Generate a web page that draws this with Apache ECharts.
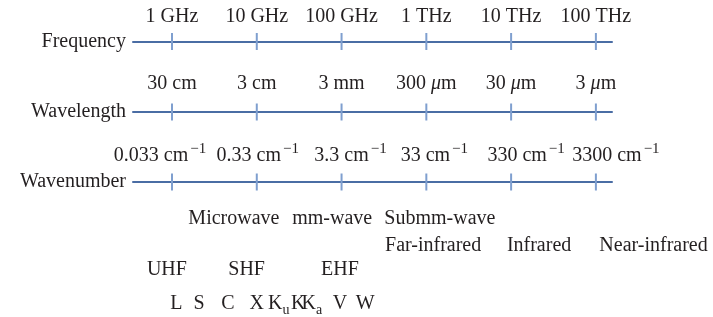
<!DOCTYPE html>
<html>
<head>
<meta charset="utf-8">
<script src="https://cdn.jsdelivr.net/npm/echarts@6/dist/echarts.min.js"></script>
<style>
  html, body { margin: 0; padding: 0; background: #fff; }
  #main { width: 713px; height: 317px; }
</style>
</head>
<body>
<div id="main"></div>
<script>
'use strict';

// decades above 1 GHz (log10 of f / 1 GHz)
var decades = [0, 1, 2, 3, 4, 5];
var axisMin = -0.46;
var axisMax = 5.19;

var rowNames = ['Frequency', 'Wavelength', 'Wavenumber'];
var freqLabels = ['1 GHz', '10 GHz', '100 GHz', '1 THz', '10 THz', '100 THz'];
var waveValues = ['30', '3', '3', '300', '30', '3'];
var waveUnits = ['cm', 'cm', 'mm', 'μm', 'μm', 'μm'];
var numberValues = ['0.033', '0.33', '3.3', '33', '330', '3300'];

// annotation rows, positioned on the same decade scale
var spectrumNames = ['Microwave', 'mm-wave', 'Submm-wave'];
var spectrumPos = [0.73, 1.89, 3.16];
var infraredNames = ['Far-infrared', 'Infrared', 'Near-infrared'];
var infraredPos = [3.08, 4.33, 5.68];
var ituNames = ['UHF', 'SHF', 'EHF'];
var ituPos = [-0.06, 0.88, 1.98];
var bandNames = ['L', 'S', 'C', 'X', 'Ku', 'K', 'Ka', 'V', 'W'];
var bandPos = [0.05, 0.32, 0.66, 1.0, 1.26, 1.49, 1.65, 1.98, 2.28];
var rowLevels = [0.5, 1.47, 2.36, 3.65];

var FONT = '"Liberation Serif", "DejaVu Serif", serif';
var TEXT = '#231f20';
var LINE = '#4a6da4';
var TICK = '#7f9fcf';

var lineTops = [33.5, 104, 174];
var labelGaps = [6.5, 9.5, 7.5];
// wavenumber labels are set a little off their ticks in the original
var numberLabelShift = [-12, 1, 9, 8, 15, 20];

function tickLabel(row, i) {
    if (row === 0) return '{a|' + freqLabels[i] + '}';
    if (row === 1) {
        if (waveUnits[i] === 'μm') return '{a|' + waveValues[i] + ' }{i|μ}{a|m}';
        return '{a|' + waveValues[i] + ' ' + waveUnits[i] + '}';
    }
    return '{n|' + numberValues[i] + ' cm}{s|−1}';
}

var grids = [], xAxes = [], yAxes = [], series = [];

rowNames.forEach(function(name, r) {
    grids.push({ left: 133, width: 479, top: lineTops[r], height: 16 });
    xAxes.push({
        gridIndex: r,
        type: 'value',
        min: axisMin,
        max: axisMax,
        axisLine: { onZero: true, lineStyle: { color: LINE, width: 2 } },
        axisTick: { show: false },
        splitLine: { show: false },
        axisLabel: { show: false }
    });
    yAxes.push({
        gridIndex: r,
        type: 'value',
        min: -1,
        max: 1,
        axisLine: { show: false },
        axisTick: { show: false },
        splitLine: { show: false },
        axisLabel: {
            customValues: [0],
            margin: 7,
            fontFamily: FONT,
            fontSize: 20,
            color: TEXT,
            formatter: function() { return name; }
        }
    });
    // tick marks with their labels
    series.push({
        type: 'scatter',
        xAxisIndex: r,
        yAxisIndex: r,
        symbol: 'rect',
        symbolSize: [2, 17],
        itemStyle: { color: TICK, opacity: 1 },
        silent: true,
        label: {
            show: true,
            position: 'top',
            distance: labelGaps[r],
            formatter: function(p) { return tickLabel(r, p.dataIndex); },
            rich: {
                a: { fontFamily: FONT, fontSize: 20, color: TEXT },
                i: { fontFamily: FONT, fontSize: 20, color: TEXT, fontStyle: 'italic' },
                n: { fontFamily: FONT, fontSize: 20, color: TEXT, lineHeight: 24, verticalAlign: 'bottom' },
                s: { fontFamily: FONT, fontSize: 15, color: TEXT, lineHeight: 14, verticalAlign: 'top', padding: [0, 0, 0, 2] }
            }
        },
        data: decades.map(function(d, i) {
            var item = { value: [d, 0] };
            if (r === 2) item.label = { offset: [numberLabelShift[i], 0] };
            return item;
        })
    });
});

// annotation grid
grids.push({ left: 133, width: 479, top: 205, height: 110 });
xAxes.push({ gridIndex: 3, type: 'value', min: axisMin, max: axisMax, show: false });
yAxes.push({ gridIndex: 3, type: 'value', min: 0, max: 4, inverse: true, show: false });

function textRow(names, pos, level) {
    return names.map(function(n, i) { return { name: n, value: [pos[i], rowLevels[level]] }; });
}

function bandText(n) {
    if (n.length === 2) return '{k|' + n[0] + '}{b|' + n[1] + '}';
    return '{k|' + n + '}';
}

series.push({
    type: 'scatter',
    xAxisIndex: 3,
    yAxisIndex: 3,
    symbolSize: 0,
    clip: false,
    silent: true,
    itemStyle: { opacity: 1 },
    label: {
        show: true,
        position: 'inside',
        fontFamily: FONT,
        fontSize: 20,
        color: TEXT,
        formatter: function(p) { return p.name; }
    },
    data: textRow(spectrumNames, spectrumPos, 0)
        .concat(textRow(infraredNames, infraredPos, 1))
        .concat(textRow(ituNames, ituPos, 2))
});

series.push({
    type: 'scatter',
    xAxisIndex: 3,
    yAxisIndex: 3,
    symbolSize: 0,
    clip: false,
    silent: true,
    itemStyle: { opacity: 1 },
    label: {
        show: true,
        position: 'inside',
        formatter: function(p) { return bandText(p.name); },
        rich: {
            k: { fontFamily: FONT, fontSize: 20, color: TEXT, lineHeight: 24, verticalAlign: 'top' },
            b: { fontFamily: FONT, fontSize: 14, color: TEXT, lineHeight: 14, verticalAlign: 'bottom' }
        }
    },
    data: textRow(bandNames, bandPos, 3)
});

var myChart = echarts.init(document.getElementById('main'));
myChart.setOption({
    animation: false,
    backgroundColor: '#fff',
    grid: grids,
    xAxis: xAxes,
    yAxis: yAxes,
    series: series
});
</script>
</body>
</html>
